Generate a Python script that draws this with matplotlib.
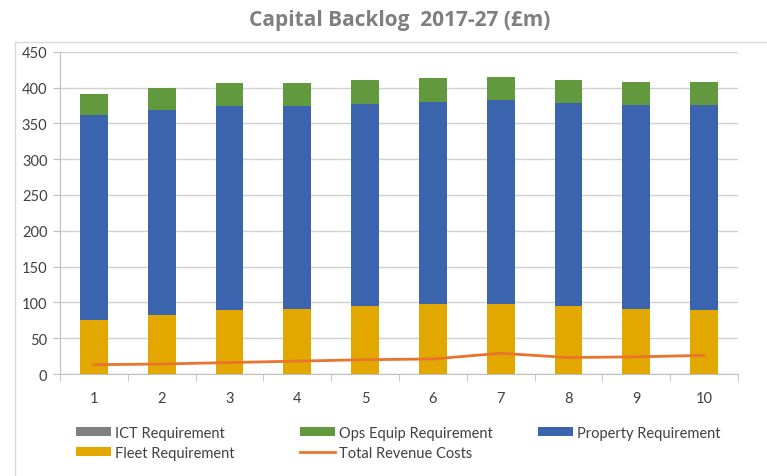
import matplotlib
matplotlib.use("Agg")
import matplotlib.pyplot as plt
from matplotlib.lines import Line2D
import numpy as np

years = [1, 2, 3, 4, 5, 6, 7, 8, 9, 10]
ict_req = [0, 0, 0, 0, 0, 0, 0, 0, 0, 0]
fleet_req = [75, 83, 90, 91, 95, 98, 98, 95, 91, 89]
property_req = [287, 285, 284, 283, 282, 282, 284, 284, 285, 286]
ops_equip_req = [29, 31, 33, 33, 33, 33, 33, 32, 32, 33]
total_revenue = [13, 14, 16, 18, 20, 21, 29, 23, 24, 26]

plt.rcParams['font.family'] = ['Lato', 'DejaVu Sans']

fig = plt.figure(figsize=(7.67, 4.77), dpi=100)
ax = fig.add_axes([0.0782, 0.2138, 0.8840, 0.6757])

x = np.array(years)
w = 0.41
c_ict, c_fleet, c_prop, c_ops = '#808080', '#E2A800', '#3B64AE', '#62993E'

b_ict = ax.bar(x, ict_req, w, color=c_ict, zorder=3)
bottom = np.array(ict_req, dtype=float)
b_fleet = ax.bar(x, fleet_req, w, bottom=bottom, color=c_fleet, zorder=3)
bottom += fleet_req
b_prop = ax.bar(x, property_req, w, bottom=bottom, color=c_prop, zorder=3)
bottom += property_req
b_ops = ax.bar(x, ops_equip_req, w, bottom=bottom, color=c_ops, zorder=3)
ln, = ax.plot(x, total_revenue, color='#E8742E', lw=2, zorder=4)

ax.set_xlim(0.5, 10.5)
ax.set_ylim(0, 450)
ax.set_yticks(range(0, 451, 50))
ax.set_xticks(x)
ax.set_xticks(np.arange(0.5, 10.6, 1), minor=True)
ax.tick_params(axis='x', which='major', length=0, pad=12, labelsize=10.5, labelcolor='#404040')
ax.tick_params(axis='x', which='minor', length=5, color='#bfbfbf')
ax.tick_params(axis='y', length=5, color='#bfbfbf', labelsize=10.5, labelcolor='#404040', pad=4)
ax.grid(axis='y', color='#d0d0d0', lw=1, zorder=0)
for s in ['top', 'right']:
    ax.spines[s].set_visible(False)
ax.spines['left'].set_color('#bfbfbf')
ax.spines['bottom'].set_color('#bfbfbf')

# legend: three columns placed separately (uneven gaps in the original)
legend_cols = [
    ([b_ict, b_fleet], ['ICT Requirement', 'Fleet Requirement'], 76),
    ([b_ops, ln], ['Ops Equip Requirement', 'Total Revenue Costs'], 300),
    ([b_prop], ['Property Requirement'], 538),
]
for hs, ls, px in legend_cols:
    leg = fig.legend(hs, ls, loc='upper left', bbox_to_anchor=(px / 767, 1 - 427 / 477),
                     frameon=False, fontsize=10.5, labelcolor='#404040', handlelength=2.4,
                     handleheight=0.6, handletextpad=0.3, labelspacing=0.4,
                     borderaxespad=0, borderpad=0)

fig.text(0.521, 0.956, 'Capital Backlog  2017-27 (£m)', ha='center', va='center',
         fontsize=15, fontweight='bold', color='#7f7f7f', family='Open Sans')

fy = 1 - 43 / 477
fig.add_artist(Line2D([0.0196, 0.0196], [0, fy], color='#d9d9d9', lw=1, transform=fig.transFigure))
fig.add_artist(Line2D([0.0196, 1], [fy, fy], color='#d9d9d9', lw=1, transform=fig.transFigure))

fig.savefig('out.png', dpi=100)
